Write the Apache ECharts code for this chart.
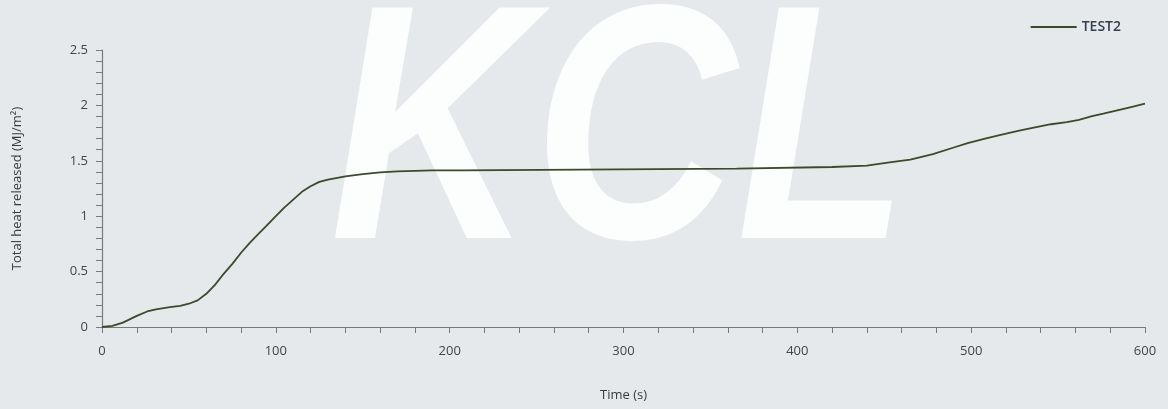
<!DOCTYPE html>
<html>
<head>
<meta charset="utf-8">
<script src="https://cdn.jsdelivr.net/npm/echarts@6/dist/echarts.min.js"></script>
<style>
html,body{margin:0;padding:0;background:#e5e9eb;}
#c{width:1168px;height:409px;}
</style>
</head>
<body>
<div id="c"></div>
<script>
const seriesName = 'TEST2';
const timeS = [0,6,12,20,26,31,39,45,50,55,60,65,70,75,80,85,90,95,100,105,110,115,120,125,130,140,150,160,170,190,207,208,365,366,420,421,440,441,453,465,478,490,498,508,517,527,536,546,555,562,569,576,584,592,600];
const heat = [0,0.01,0.04,0.10,0.14,0.16,0.18,0.19,0.21,0.24,0.30,0.38,0.48,0.57,0.67,0.76,0.84,0.92,1.00,1.08,1.15,1.22,1.27,1.31,1.33,1.36,1.38,1.395,1.405,1.413,1.413,1.43,1.43,1.444,1.444,1.456,1.456,1.474,1.485,1.51,1.56,1.62,1.66,1.70,1.735,1.77,1.80,1.83,1.85,1.87,1.90,1.925,1.955,1.985,2.015];
const xTitle = 'Time (s)';
const yTitle = 'Total heat released (MJ/m²)';
const watermark = 'KCL';

const chart = echarts.init(document.getElementById('c'));
const font = "'Open Sans', 'Noto Sans', sans-serif";
chart.setOption({
  backgroundColor: '#e5e9eb',
  animation: false,
  graphic: [{
    type: 'text', left: 330, top: -22, z: -10, silent: true, scaleX: 0.84,
    style: { text: watermark, font: 'italic bold 335px "Liberation Sans", sans-serif', fill: 'rgba(255,255,255,0.88)' }
  }],
  legend: {
    show: true, right: 42, top: 15, itemWidth: 46, itemHeight: 2, itemGap: 4,
    icon: 'rect',
    textStyle: { fontFamily: font, fontSize: 14, color: '#34404c', fontWeight: 600 },
    data: [seriesName]
  },
  grid: { left: 102, right: 23, top: 50, bottom: 82, containLabel: false },
  xAxis: {
    type: 'value', min: 0, max: 600, interval: 100,
    name: xTitle, nameLocation: 'middle', nameGap: 62,
    nameTextStyle: { fontFamily: font, fontSize: 13, color: '#3a3a3a' },
    axisLine: { show: true, lineStyle: { color: '#7a7a7a', width: 1.2 } },
    axisTick: { show: true, length: 6, lineStyle: { color: '#7a7a7a' } },
    minorTick: { show: true, splitNumber: 5, length: 6, lineStyle: { color: '#7a7a7a' } },
    axisLabel: { fontFamily: font, fontSize: 13, color: '#444', margin: 18 },
    splitLine: { show: false }
  },
  yAxis: {
    type: 'value', min: 0, max: 2.5, interval: 0.5,
    name: yTitle, nameLocation: 'middle', nameGap: 78, nameRotate: 90,
    nameTextStyle: { fontFamily: font, fontSize: 13, color: '#3a3a3a' },
    axisLine: { show: true, lineStyle: { color: '#7a7a7a', width: 1.2 } },
    axisTick: { show: true, length: 6, lineStyle: { color: '#7a7a7a' } },
    minorTick: { show: true, splitNumber: 5, length: 6, lineStyle: { color: '#7a7a7a' } },
    axisLabel: { fontFamily: font, fontSize: 13, color: '#444', margin: 14 },
    splitLine: { show: false }
  },
  series: [{
    name: seriesName, type: 'line', showSymbol: false, symbol: 'none',
    data: timeS.map((t, i) => [t, heat[i]]),
    lineStyle: { color: '#3b4a2b', width: 1.8 },
    itemStyle: { color: '#3b4a2b' }
  }]
});
</script>
</body>
</html>
